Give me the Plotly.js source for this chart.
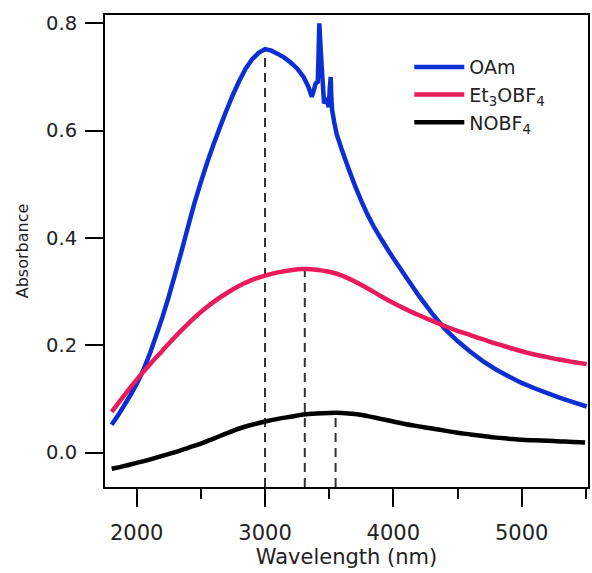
<!DOCTYPE html>
<html>
<head>
<meta charset="utf-8">
<script src="https://cdn.plot.ly/plotly-3.0.1.min.js"></script>
<style>html,body{margin:0;padding:0;background:#fff;}#chart{width:592px;height:573px;}</style>
</head>
<body>
<div id="chart"></div>
<script>
// Wavelength (nm) and absorbance
const oamX = [1805, 1850, 1900, 1950, 2000, 2050, 2100, 2150, 2200, 2250, 2300, 2350, 2400, 2450, 2500, 2550, 2600, 2650, 2700, 2750, 2800, 2850, 2900, 2950, 3000, 3050, 3100, 3150, 3200, 3250, 3300, 3338, 3364, 3380, 3395, 3411, 3418, 3423, 3432, 3442, 3460, 3470, 3481, 3497, 3505, 3512, 3517, 3523, 3540, 3559, 3598, 3650, 3700, 3750, 3800, 3850, 3900, 3950, 4000, 4100, 4200, 4300, 4400, 4500, 4600, 4700, 4800, 4900, 5000, 5100, 5200, 5300, 5400, 5507];
const oamY = [0.052, 0.068, 0.087, 0.107, 0.128, 0.153, 0.183, 0.217, 0.252, 0.291, 0.333, 0.376, 0.421, 0.465, 0.504, 0.541, 0.575, 0.607, 0.638, 0.667, 0.693, 0.716, 0.733, 0.745, 0.752, 0.749, 0.743, 0.736, 0.727, 0.716, 0.700, 0.682, 0.663, 0.675, 0.688, 0.691, 0.750, 0.800, 0.760, 0.719, 0.651, 0.655, 0.657, 0.644, 0.680, 0.700, 0.660, 0.638, 0.615, 0.593, 0.565, 0.530, 0.498, 0.469, 0.443, 0.420, 0.400, 0.381, 0.362, 0.327, 0.292, 0.260, 0.231, 0.208, 0.188, 0.170, 0.155, 0.142, 0.130, 0.120, 0.111, 0.102, 0.094, 0.086];

const etX = [1805, 1900, 2000, 2100, 2200, 2300, 2400, 2500, 2600, 2700, 2800, 2900, 3000, 3100, 3200, 3300, 3400, 3500, 3600, 3700, 3800, 3900, 4000, 4100, 4200, 4300, 4400, 4500, 4600, 4700, 4800, 4900, 5000, 5100, 5200, 5300, 5400, 5507];
const etY = [0.076, 0.106, 0.136, 0.164, 0.190, 0.216, 0.240, 0.262, 0.281, 0.297, 0.311, 0.322, 0.330, 0.336, 0.340, 0.342, 0.341, 0.337, 0.330, 0.319, 0.306, 0.292, 0.279, 0.267, 0.256, 0.246, 0.236, 0.227, 0.219, 0.211, 0.203, 0.196, 0.189, 0.183, 0.178, 0.173, 0.169, 0.165];

const noX = [1805, 1900, 2000, 2100, 2200, 2300, 2400, 2500, 2600, 2700, 2800, 2900, 3000, 3100, 3200, 3300, 3400, 3500, 3600, 3700, 3800, 3900, 4000, 4100, 4200, 4300, 4400, 4500, 4600, 4700, 4800, 4900, 5000, 5100, 5200, 5300, 5400, 5494];
const noY = [-0.030, -0.025, -0.019, -0.013, -0.006, 0.001, 0.009, 0.017, 0.026, 0.036, 0.045, 0.052, 0.058, 0.063, 0.067, 0.071, 0.073, 0.074, 0.074, 0.072, 0.068, 0.063, 0.058, 0.053, 0.049, 0.045, 0.041, 0.037, 0.034, 0.031, 0.028, 0.026, 0.024, 0.023, 0.022, 0.021, 0.020, 0.019];

const seriesNames = ['OAm', 'Et<sub>3</sub>OBF<sub>4</sub>', 'NOBF<sub>4</sub>'];
const seriesColors = ['#0b2fd2', '#ea1a5b', '#000000'];

// Peak markers (dashed drop lines)
const peakX = [3000, 3310, 3550];
const peakY = [0.752, 0.342, 0.074];

const xRange = [1753, 5517];
const yRange = [-0.064, 0.8155];

const traces = [];
peakX.forEach((px, i) => {
  traces.push({
    x: [px, px], y: [yRange[0], peakY[i]], mode: 'lines', showlegend: false, hoverinfo: 'skip',
    line: {color: '#333', width: 2, dash: '9px,6px'}
  });
});
[[oamX, oamY], [etX, etY], [noX, noY]].forEach((d, i) => {
  traces.push({
    x: d[0], y: d[1], mode: 'lines', name: seriesNames[i],
    line: {color: seriesColors[i], width: 4.5, shape: i === 0 ? 'linear' : 'spline', smoothing: 1, simplify: false}
  });
});

const font = 'DejaVu Sans, Arial, sans-serif';
const layout = {
  width: 592, height: 573,
  margin: {l: 105, r: 4, t: 15, b: 86},
  paper_bgcolor: '#fff', plot_bgcolor: '#fff',
  font: {family: font, color: '#222', size: 19},
  showlegend: true,
  legend: {x: 0.63, y: 0.93, xanchor: 'left', yanchor: 'top', bgcolor: 'rgba(0,0,0,0)',
           itemwidth: 50,
           font: {family: font, size: 19, color: '#222'}, tracegroupgap: 0},
  xaxis: {
    range: xRange, showgrid: false, zeroline: false,
    showline: true, linecolor: '#000', linewidth: 2, mirror: true,
    ticks: 'outside', ticklen: 18, tickwidth: 2, tickcolor: '#000',
    tick0: 2000, dtick: 1000, ticklabelstandoff: 8,
    minor: {ticks: 'outside', ticklen: 10, tickwidth: 2, tickcolor: '#000', dtick: 500, tick0: 1500},
    tickfont: {family: font, size: 21, color: '#222'},
    title: {text: 'Wavelength (nm)', font: {family: font, size: 21, color: '#222'}, standoff: 2}
  },
  yaxis: {
    range: yRange, showgrid: false, zeroline: false,
    showline: true, linecolor: '#000', linewidth: 2, mirror: true,
    ticks: 'outside', ticklen: 18, tickwidth: 2, tickcolor: '#000',
    tick0: 0, dtick: 0.2, tickformat: '.1f', ticklabelstandoff: 4,
    tickfont: {family: font, size: 19.5, color: '#222'},
    title: {text: 'Absorbance', font: {family: font, size: 16, color: '#222'}, standoff: 13}
  }
};

Plotly.newPlot('chart', traces, layout, {displayModeBar: false, staticPlot: true});
</script>
</body>
</html>
